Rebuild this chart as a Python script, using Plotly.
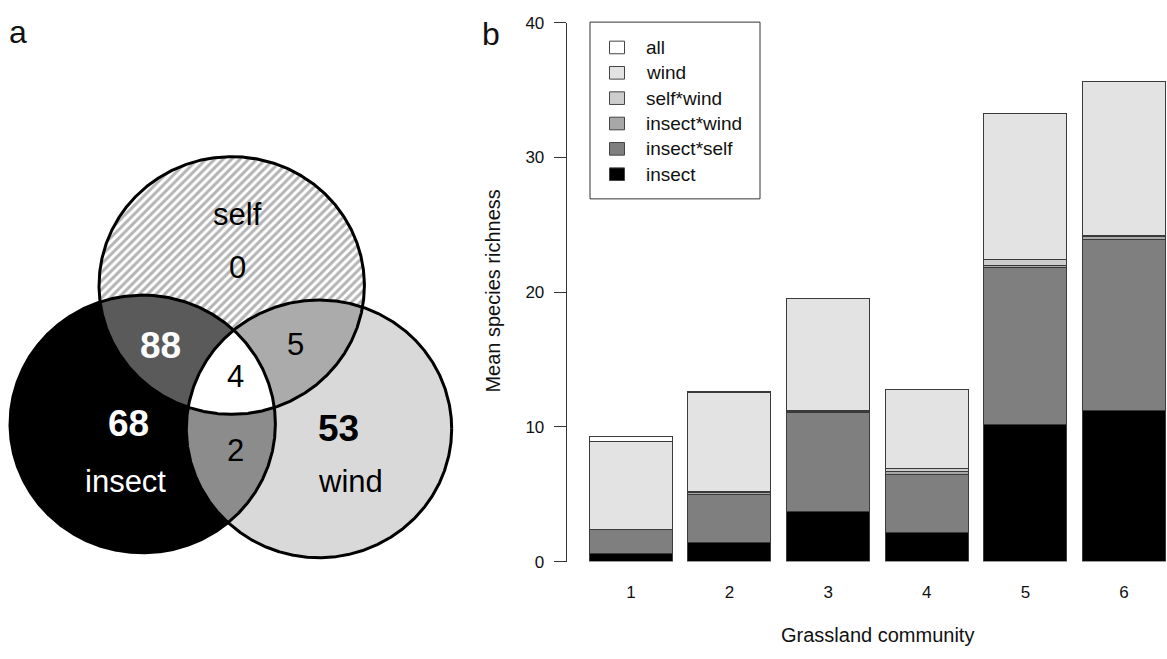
import numpy as np
import plotly.graph_objects as go

W, H = 1167, 659
FONT = "Liberation Sans, Arial, sans-serif"

# ---------------- data ----------------
# panel a: Venn counts
venn_sets = ["insect", "self", "wind"]
venn_only = {"insect": 68, "self": 0, "wind": 53}
venn_pairs = {("insect", "self"): 88, ("self", "wind"): 5, ("insect", "wind"): 2}
venn_all = 4

# panel b: stacked bars
communities = ["1", "2", "3", "4", "5", "6"]
series_names = ["insect", "insect*self", "insect*wind", "self*wind", "wind", "all"]
insect = [0.60, 1.42, 3.72, 2.14, 10.14, 11.22]
insect_self = [1.80, 3.55, 7.31, 4.32, 11.65, 12.68]
insect_wind = [0.00, 0.12, 0.10, 0.20, 0.15, 0.24]
self_wind = [0.00, 0.12, 0.10, 0.24, 0.48, 0.05]
wind = [6.49, 7.30, 8.30, 5.88, 10.80, 11.41]
all_modes = [0.41, 0.10, 0.00, 0.00, 0.00, 0.00]
series_values = [insect, insect_self, insect_wind, self_wind, wind, all_modes]
y_ticks = [0, 10, 20, 30, 40]

# ---------------- styles ----------------
bar_colors = ["#000000", "#7f7f7f", "#a8a8a8", "#cdcdcd", "#e3e3e3", "#ffffff"]
venn_colors = {"insect": "#000000", "wind": "#d9d9d9",
               ("insect", "self"): "#5a5a5a", ("self", "wind"): "#ababab",
               ("insect", "wind"): "#8c8c8c", "all": "#ffffff"}
# circle geometry in page pixels (layout, not data)
circles = {"self": (231.7, 284.7, 132.7), "insect": (142.7, 427.3, 132.7), "wind": (319.0, 432.3, 132.7)}


def px(x):
    return x / W


def py(y):
    return 1 - y / H


fig = go.Figure()

# ---------------- Venn (axes x2/y2 in pixel coordinates) ----------------
theta = np.linspace(0, 2 * np.pi, 1441)


def boundary(name):
    cx, cy, r = circles[name]
    return np.c_[cx + r * np.cos(theta), cy + r * np.sin(theta)]


def inside(pts, name):
    cx, cy, r = circles[name]
    return np.hypot(pts[:, 0] - cx, pts[:, 1] - cy) <= r + 1e-6


def region(members):
    pts = []
    for m in members:
        b = boundary(m)
        mask = np.ones(len(b), bool)
        for o in members:
            if o != m:
                mask &= inside(b, o)
        pts.append(b[mask])
    pts = np.vstack(pts)
    c = pts.mean(axis=0)
    order = np.argsort(np.arctan2(pts[:, 1] - c[1], pts[:, 0] - c[0]))
    pts = pts[order]
    return np.vstack([pts, pts[:1]])


def add_fill(pts, color, pattern=None):
    kw = dict(x=pts[:, 0], y=pts[:, 1], mode="lines", fill="toself",
              line=dict(width=0, color=color), fillcolor=color,
              hoverinfo="skip", showlegend=False, xaxis="x2", yaxis="y2")
    if pattern:
        kw["fillpattern"] = pattern
    fig.add_trace(go.Scatter(**kw))


b = boundary("self")
add_fill(np.vstack([b, b[:1]]), "white",
         pattern=dict(shape="/", fgcolor="#6a6a6a", bgcolor="white", size=6, solidity=0.5))
for nm in ["insect", "wind"]:
    b = boundary(nm)
    add_fill(np.vstack([b, b[:1]]), venn_colors[nm])
for pair in venn_pairs:
    add_fill(region(list(pair)), venn_colors[pair])
add_fill(region(venn_sets), venn_colors["all"])
for nm in venn_sets:
    b = boundary(nm)
    fig.add_trace(go.Scatter(x=b[:, 0], y=b[:, 1], mode="lines",
                             line=dict(color="black", width=3),
                             hoverinfo="skip", showlegend=False, xaxis="x2", yaxis="y2"))

# Venn labels (positions in page pixels)
venn_text = [
    ("self", 237, 212, "black", False, 31),
    (str(venn_only["self"]), 237, 266, "black", False, 31),
    (str(venn_pairs[("insect", "self")]), 160, 347, "white", True, 37),
    (str(venn_pairs[("self", "wind")]), 295, 345, "black", False, 31),
    (str(venn_all), 235, 378, "black", False, 31),
    (str(venn_only["insect"]), 128, 427, "white", True, 37),
    (str(venn_pairs[("insect", "wind")]), 235, 455, "black", False, 31),
    (str(venn_only["wind"]), 338, 432, "black", True, 37),
    ("insect", 125, 487, "white", False, 31),
    ("wind", 350, 487, "black", False, 31),
]
annotations = []
for t, x, y, col, bold, size in venn_text:
    annotations.append(dict(text=f"<b>{t}</b>" if bold else t, x=px(x), y=py(y),
                            xref="paper", yref="paper", showarrow=False,
                            xanchor="center", yanchor="middle",
                            font=dict(family=FONT, size=size, color=col)))

# ---------------- stacked bars ----------------
xpos = np.arange(1, len(communities) + 1)
for name, vals, col in zip(series_names, series_values, bar_colors):
    fig.add_trace(go.Bar(x=xpos, y=vals, name=name, marker=dict(color=col, line=dict(color="#3a3a3a", width=1)),
                         width=0.842, showlegend=False, xaxis="x", yaxis="y"))

# axis geometry
ax_left, unit_px, first_center = 566.7, 98.6, 631.0
x_lo = 1 - (first_center - ax_left) / unit_px
x_hi = 1 + (W - first_center) / unit_px

fig.update_layout(
    width=W, height=H, margin=dict(l=0, r=0, t=0, b=0),
    paper_bgcolor="white", plot_bgcolor="rgba(0,0,0,0)",
    barmode="stack", bargap=0,
    showlegend=False,
    font=dict(family=FONT, color="#111"),
    xaxis=dict(domain=[ax_left / W, 1.0], range=[x_lo, x_hi], tickvals=list(xpos), ticktext=communities,
               showline=False, ticks="", showgrid=False, zeroline=False,
               tickfont=dict(size=17, family=FONT, color="#111"), ticklabelstandoff=18),
    yaxis=dict(domain=[1 - 569 / H, 1 - 14 / H], range=[0, 40], tickvals=y_ticks,
               showline=True, linecolor="#333", linewidth=1, ticks="outside", ticklen=12,
               tickcolor="#333", tickwidth=1, showgrid=False, zeroline=False,
               tickfont=dict(size=17, family=FONT, color="#111"), ticklabelstandoff=6),
    xaxis2=dict(domain=[0, 0.47], range=[0, 0.47 * W], visible=False, fixedrange=True),
    yaxis2=dict(domain=[0, 1], range=[H, 0], visible=False, fixedrange=True),
)

# axis titles and panel letters
annotations += [
    dict(text="Mean species richness", x=px(493), y=py(291), textangle=-90,
         font=dict(family=FONT, size=20, color="#111")),
    dict(text="Grassland community", x=px(877), y=py(645),
         font=dict(family=FONT, size=20, color="#111")),
    dict(text="a", x=px(18), y=py(24), font=dict(family=FONT, size=32, color="#111")),
    dict(text="b", x=px(491), y=py(26), font=dict(family=FONT, size=32, color="#111")),
]
for a in annotations[len(venn_text):]:
    a.update(xref="paper", yref="paper", showarrow=False, xanchor="center", yanchor="middle")

# manual legend (top to bottom: all ... insect)
shapes = [dict(type="rect", xref="paper", yref="paper", x0=px(590), x1=px(760), y0=py(195.5), y1=py(13.5),
               line=dict(color="#333", width=1), fillcolor="white", layer="above")]
leg_order = list(range(len(series_names)))[::-1]
for i, k in enumerate(leg_order):
    cy = 39.6 + i * 26.1
    shapes.append(dict(type="rect", xref="paper", yref="paper", x0=px(609.5), x1=px(624.5),
                       y0=py(cy + 6.5), y1=py(cy - 6.5), line=dict(color="#444", width=1),
                       fillcolor=bar_colors[k], layer="above"))
    annotations.append(dict(text=series_names[k], x=px(644), y=py(cy), xref="paper", yref="paper",
                            showarrow=False, xanchor="left", yanchor="middle",
                            font=dict(family=FONT, size=19, color="#111")))

fig.update_layout(annotations=annotations, shapes=shapes)
fig.write_html("out.html")
